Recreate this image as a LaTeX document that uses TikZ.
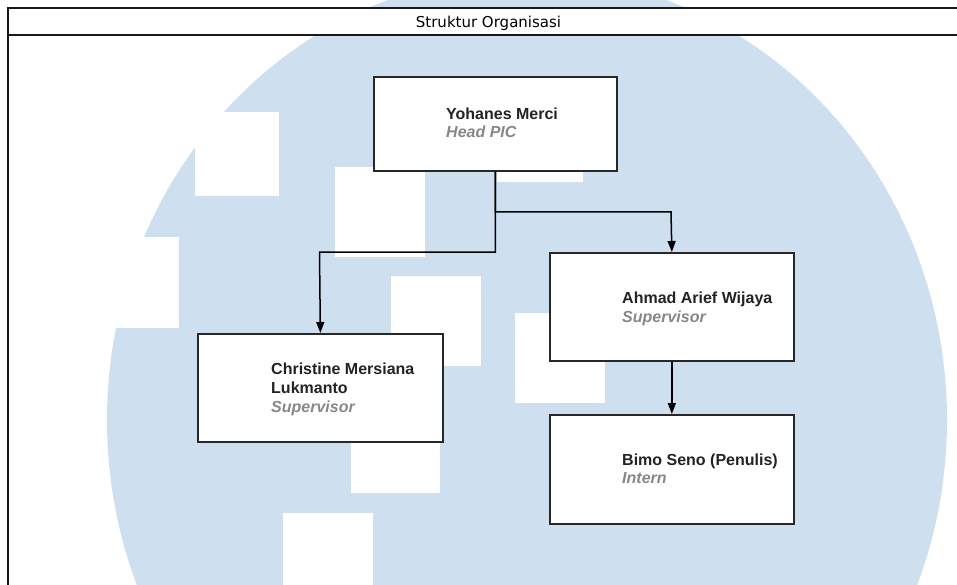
\documentclass[tikz,border=0pt]{standalone}
\usepackage{fontspec}
\setmainfont{Liberation Sans}
\newfontfamily\titlefont{DejaVu Sans}
\usetikzlibrary{arrows.meta}
\definecolor{wmblue}{RGB}{206,224,239}
\definecolor{namecol}{RGB}{35,35,35}
\definecolor{rolecol}{RGB}{135,135,135}
\definecolor{linecol}{RGB}{40,40,40}
\begin{document}
\begin{tikzpicture}[x=1pt,y=-1pt,
  box/.style={draw=linecol, line width=1.7pt, fill=white, inner sep=0pt, anchor=north west},
  hole/.style={fill=white, draw=none},
  nametxt/.style={font=\fontsize{16}{19}\selectfont\bfseries, text=namecol, inner sep=0pt, anchor=base west},
  roletxt/.style={font=\fontsize{16}{19}\selectfont\bfseries\itshape, text=rolecol, inner sep=0pt, anchor=base west},
  arr/.style={draw=black, line width=1.5pt, -{Triangle[length=11pt,width=8pt]}},
  framel/.style={draw=black!90, line width=1.8pt}]
\useasboundingbox (0,0) rectangle (957,585);
\fill[white] (0,0) rectangle (957,585);
% watermark
\fill[wmblue] (527,420) ellipse [x radius=420, y radius=445];
\fill[hole] (195,112) rectangle (279,196);
\fill[hole] (90,237) rectangle (179,328);
\fill[hole] (335,167) rectangle (425,257);
\fill[hole] (391,276) rectangle (481,366);
\fill[hole] (497,92) rectangle (583,182);
\fill[hole] (515,313) rectangle (605,403);
\fill[hole] (351,403) rectangle (440,493);
\fill[hole] (283,513) rectangle (373,603);
% title bar
\fill[white] (8,8) rectangle (957,35);
\draw[framel] (957,8) -- (8,8) -- (8,585);
\draw[framel] (8,35) -- (957,35);
\node[font=\titlefont\fontsize{15}{18}\selectfont, text=black, inner sep=0pt, anchor=base] (title) at (488.5,28) {Struktur Organisasi};
% boxes
\node[box, minimum width=243pt, minimum height=94pt] (yohanes) at (373,76) {};
\node[box, minimum width=245pt, minimum height=108pt] (christine) at (197,333) {};
\node[box, minimum width=244pt, minimum height=108pt] (ahmad) at (549,252) {};
\node[box, minimum width=244pt, minimum height=109pt] (bimo) at (549,414) {};
% connectors
\coordinate (cr) at (671,212);
\coordinate (cl) at (319.5,252);
\draw[arr] (yohanes.south) |- (cr) -- (ahmad.north);
\draw[arr] (yohanes.south) |- (cl) -- (christine.north);
\draw[arr] (ahmad.south) -- (bimo.north);
% texts
\node[nametxt] (yname) at (446,120) {Yohanes Merci};
\node[roletxt] (yrole) at (446,138) {Head PIC};
\node[nametxt] (cname1) at (271,374) {Christine Mersiana};
\node[nametxt] (cname2) at (271,393) {Lukmanto};
\node[roletxt] (crole) at (271,412) {Supervisor};
\node[nametxt] (aname) at (622,303) {Ahmad Arief Wijaya};
\node[roletxt] (arole) at (622,322) {Supervisor};
\node[nametxt] (bname) at (622,465) {Bimo Seno (Penulis)};
\node[roletxt] (brole) at (622,483) {Intern};
\end{tikzpicture}
\end{document}
